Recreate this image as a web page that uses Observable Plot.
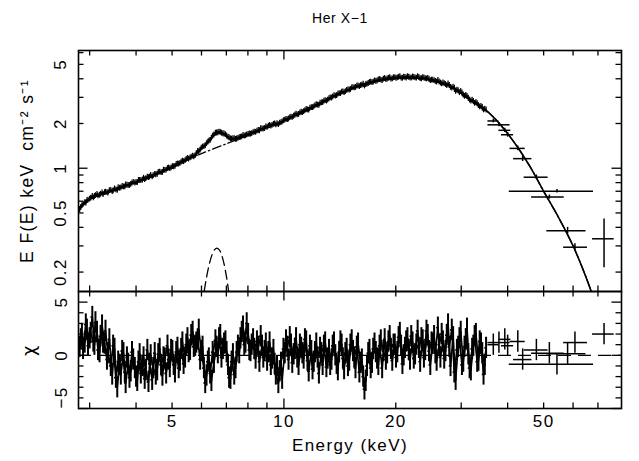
<!DOCTYPE html>
<html>
<head>
<meta charset="utf-8">
<script src="https://cdn.jsdelivr.net/npm/d3@7"></script>
<script src="https://cdn.jsdelivr.net/npm/@observablehq/plot@0.6"></script>
<style>
  html, body { margin: 0; padding: 0; background: #fff; }
  #wrap { position: relative; width: 639px; height: 461px; font-family: "Liberation Sans", Arial, Helvetica, sans-serif; }
  #title { position: absolute; left: 240px; width: 200px; top: 11px; text-align: center; font-size: 14px; line-height: 14px; letter-spacing: 0.6px; color: #000; }
  #topPanel { position: absolute; left: 0; top: 0; }
  #botPanel { position: absolute; left: 0; top: 290px; }
</style>
</head>
<body>
<div id="wrap">
  <div id="topPanel"></div>
  <div id="botPanel"></div>
  <div id="title">Her X−1</div>
</div>
<script>
// ---------- data ----------
// module A: dense spectrum channels (keV)
const energyA = [
  2.82, 2.86, 2.91, 2.95, 3.00, 3.05, 3.09, 3.14, 3.19, 3.24,
  3.29, 3.34, 3.39, 3.45, 3.50, 3.56, 3.61, 3.67, 3.73, 3.78,
  3.84, 3.90, 3.97, 4.03, 4.09, 4.16, 4.22, 4.29, 4.35, 4.42,
  4.49, 4.56, 4.63, 4.71, 4.78, 4.86, 4.93, 5.01, 5.09, 5.17,
  5.25, 5.33, 5.42, 5.50, 5.59, 5.68, 5.77, 5.86, 5.95, 6.04,
  6.14, 6.24, 6.33, 6.43, 6.54, 6.64, 6.74, 6.85, 6.96, 7.07,
  7.18, 7.29, 7.41, 7.52, 7.64, 7.76, 7.88, 8.01, 8.13, 8.26,
  8.39, 8.53, 8.66, 8.80, 8.94, 9.08, 9.22, 9.37, 9.51, 9.66,
  9.82, 9.97, 10.13, 10.29, 10.45, 10.62, 10.78, 10.95, 11.13, 11.30,
  11.48, 11.66, 11.85, 12.03, 12.22, 12.42, 12.61, 12.81, 13.01, 13.22,
  13.43, 13.64, 13.86, 14.08, 14.30, 14.52, 14.75, 14.99, 15.22, 15.46,
  15.71, 15.96, 16.21, 16.47, 16.73, 16.99, 17.26, 17.53, 17.81, 18.09,
  18.38, 18.67, 18.96, 19.26, 19.57, 19.88, 20.19, 20.51, 20.84, 21.17,
  21.50, 21.84, 22.19, 22.54, 22.90, 23.26, 23.63, 24.00, 24.38, 24.77,
  25.16, 25.56, 25.96, 26.37, 26.79, 27.21, 27.65, 28.08, 28.53, 28.98,
  29.44, 29.91, 30.38, 30.86, 31.35, 31.85, 32.35, 32.86, 33.38, 33.91,
  34.45, 35.00
];
// unfolded E F(E) (keV cm^-2 s^-1)
const fluxA = [
  0.528, 0.560, 0.586, 0.605, 0.621, 0.648, 0.646, 0.668, 0.659, 0.684,
  0.686, 0.685, 0.708, 0.697, 0.726, 0.710, 0.734, 0.754, 0.750, 0.769,
  0.766, 0.794, 0.796, 0.800, 0.829, 0.834, 0.838, 0.872, 0.874, 0.876,
  0.910, 0.912, 0.943, 0.938, 0.968, 0.996, 0.994, 1.027, 1.030, 1.069,
  1.079, 1.115, 1.125, 1.164, 1.174, 1.208, 1.216, 1.298, 1.327, 1.389,
  1.418, 1.500, 1.540, 1.645, 1.722, 1.734, 1.745, 1.708, 1.683, 1.620,
  1.580, 1.582, 1.566, 1.592, 1.619, 1.663, 1.656, 1.690, 1.697, 1.740,
  1.747, 1.796, 1.845, 1.843, 1.898, 1.921, 1.925, 1.976, 1.962, 1.970,
  2.032, 2.089, 2.136, 2.148, 2.213, 2.241, 2.317, 2.305, 2.383, 2.404,
  2.488, 2.466, 2.563, 2.588, 2.677, 2.656, 2.757, 2.832, 2.832, 2.938,
  2.972, 3.080, 3.081, 3.177, 3.252, 3.228, 3.343, 3.364, 3.479, 3.480,
  3.568, 3.543, 3.630, 3.580, 3.683, 3.778, 3.772, 3.878, 3.868, 3.957,
  3.900, 4.021, 3.990, 4.070, 4.003, 4.081, 4.064, 4.135, 4.034, 4.096,
  4.135, 4.063, 4.120, 4.066, 4.135, 4.011, 4.075, 4.019, 4.030, 3.888,
  3.922, 3.849, 3.897, 3.749, 3.750, 3.666, 3.703, 3.505, 3.518, 3.301,
  3.330, 3.297, 3.113, 3.091, 2.963, 2.836, 2.823, 2.781, 2.643, 2.613,
  2.471, 2.467
];
// residuals (chi)
const chiA = [
  0.8, 1.9, 1.2, 2.4, 1.6, 3.6, 1.0, 2.2, 0.3, 2.8,
  1.1, -0.4, 1.5, -1.8, 0.6, -3.0, -0.9, 0.4, -1.6, -0.2,
  -2.1, 0.3, -1.2, -2.4, 0.1, -1.0, -2.2, 0.5, -0.8, -2.3,
  0.2, -1.4, 0.6, -1.9, -0.3, 0.9, -1.1, 0.4, -1.6, 0.7,
  -0.5, 1.2, -0.2, 1.6, 0.5, 2.2, 0.9, 1.5, -0.4, 0.8,
  -2.6, -0.6, -1.7, 0.3, 1.4, 0.2, 1.9, 0.6, 1.3, -0.9,
  -2.2, 0.1, -1.2, 0.9, 1.6, 2.7, 1.2, 2.0, 0.4, 1.5,
  -0.3, 0.8, 1.8, -0.2, 1.1, 0.3, -0.9, 0.5, -1.8, -2.6,
  -0.7, 0.6, 1.4, -0.4, 1.0, 0.1, 1.6, -0.9, 0.7, -0.3,
  1.3, -1.5, 0.4, -0.6, 1.1, -1.7, 0.2, 0.9, -1.1, 0.5,
  -0.4, 1.2, -0.8, 0.3, 1.0, -1.3, 0.6, -0.5, 1.4, -0.2,
  0.8, -1.6, -0.4, -3.2, -1.0, 0.5, -0.7, 1.1, -0.3, 0.9,
  -1.2, 1.5, 0.2, 1.8, -0.5, 1.0, 0.3, 2.1, -0.8, 0.7,
  1.6, -0.4, 1.2, 0.1, 2.3, -0.6, 1.4, 0.5, 1.9, -0.9,
  1.1, 0.2, 2.6, -0.2, 1.3, 0.4, 2.9, -1.0, 1.7, -2.3,
  0.8, 2.2, -0.6, 1.5, 0.1, -1.4, 0.9, 2.0, -0.5, 1.1,
  -1.8, 0.7
];
// module B: interleaved channels
const energyB = [
  2.84, 2.88, 2.93, 2.97, 3.02, 3.07, 3.11, 3.16, 3.21, 3.26,
  3.31, 3.36, 3.42, 3.47, 3.53, 3.58, 3.64, 3.70, 3.75, 3.81,
  3.87, 3.93, 4.00, 4.06, 4.12, 4.19, 4.25, 4.32, 4.38, 4.45,
  4.52, 4.59, 4.67, 4.74, 4.82, 4.89, 4.97, 5.05, 5.13, 5.21,
  5.29, 5.37, 5.46, 5.54, 5.63, 5.72, 5.81, 5.90, 5.99, 6.09,
  6.19, 6.28, 6.38, 6.48, 6.59, 6.69, 6.79, 6.90, 7.01, 7.12,
  7.23, 7.35, 7.46, 7.58, 7.70, 7.82, 7.94, 8.07, 8.19, 8.32,
  8.46, 8.59, 8.73, 8.87, 9.01, 9.15, 9.29, 9.44, 9.58, 9.74,
  9.89, 10.05, 10.21, 10.37, 10.53, 10.70, 10.86, 11.04, 11.21, 11.39,
  11.57, 11.75, 11.94, 12.12, 12.32, 12.51, 12.71, 12.91, 13.11, 13.32,
  13.53, 13.75, 13.97, 14.19, 14.41, 14.63, 14.87, 15.10, 15.34, 15.58,
  15.83, 16.08, 16.34, 16.60, 16.86, 17.12, 17.39, 17.67, 17.95, 18.23,
  18.52, 18.81, 19.11, 19.41, 19.72, 20.03, 20.35, 20.67, 21.00, 21.33,
  21.67, 22.01, 22.36, 22.72, 23.08, 23.44, 23.81, 24.19, 24.57, 24.96,
  25.36, 25.76, 26.16, 26.58, 27.00, 27.43, 27.86, 28.30, 28.75, 29.21,
  29.67, 30.14, 30.62, 31.10, 31.60, 32.10, 32.60, 33.12, 33.64, 34.18,
  34.72
];
const fluxB = [
  0.546, 0.571, 0.584, 0.611, 0.629, 0.632, 0.655, 0.652, 0.669, 0.666,
  0.690, 0.681, 0.711, 0.706, 0.716, 0.741, 0.739, 0.749, 0.773, 0.768,
  0.779, 0.805, 0.801, 0.829, 0.826, 0.857, 0.851, 0.866, 0.896, 0.893,
  0.905, 0.938, 0.936, 0.971, 0.972, 1.004, 1.006, 1.024, 1.062, 1.066,
  1.101, 1.108, 1.147, 1.152, 1.189, 1.192, 1.253, 1.296, 1.366, 1.401,
  1.465, 1.522, 1.598, 1.676, 1.728, 1.750, 1.722, 1.701, 1.648, 1.605,
  1.571, 1.585, 1.574, 1.610, 1.628, 1.646, 1.680, 1.701, 1.712, 1.752,
  1.778, 1.790, 1.838, 1.852, 1.885, 1.940, 1.946, 1.990, 1.995, 2.012,
  2.051, 2.110, 2.124, 2.190, 2.201, 2.275, 2.290, 2.362, 2.371, 2.447,
  2.470, 2.540, 2.559, 2.641, 2.660, 2.745, 2.763, 2.856, 2.880, 2.975,
  3.028, 3.058, 3.161, 3.180, 3.270, 3.281, 3.374, 3.391, 3.487, 3.501,
  3.590, 3.603, 3.690, 3.662, 3.721, 3.800, 3.802, 3.846, 3.931, 3.918,
  3.981, 3.955, 4.034, 3.992, 4.065, 4.031, 4.097, 4.048, 4.110, 4.052,
  4.101, 4.050, 4.098, 4.039, 4.083, 4.005, 4.052, 3.992, 3.975, 3.921,
  3.893, 3.802, 3.812, 3.701, 3.712, 3.598, 3.620, 3.468, 3.462, 3.362,
  3.227, 3.215, 3.051, 3.043, 2.880, 2.870, 2.731, 2.722, 2.587, 2.571,
  2.505
];
const chiB = [
  1.5, 0.6, 2.9, 0.9, 2.1, 1.3, 3.1, 0.5, 1.8, 1.2,
  2.3, 0.2, -1.0, 0.9, -2.1, -0.6, -1.8, 0.2, -2.6, -0.8,
  -1.5, -0.4, -2.0, -0.6, -1.7, -0.2, -1.4, -2.5, 0.0, -1.2,
  -1.8, 0.1, -0.9, -0.2, -1.7, -0.4, 0.5, -0.9, 0.3, -1.2,
  0.6, -0.8, 1.0, 0.3, 1.9, 0.8, 1.2, 2.4, 0.4, -1.2,
  -1.9, -0.3, -2.4, -0.7, 0.8, 1.6, -0.2, 1.1, 0.3, -2.1,
  -0.6, -1.8, 0.3, 0.2, 2.2, 1.0, 3.0, 0.5, 1.0, 0.6,
  1.3, -0.6, 0.9, 0.4, -0.5, 1.2, -0.3, -0.8, -1.0, -1.5,
  -2.2, 0.2, 0.8, 1.7, -0.7, 0.6, -0.2, 1.0, 0.2, 1.5,
  -0.5, 0.9, -1.3, 0.3, -0.2, 0.7, -0.9, 1.2, -0.3, -0.9,
  0.9, 0.0, -1.4, 1.3, -0.3, 0.2, -1.0, 1.0, 0.4, -1.2,
  1.1, -0.7, -2.0, -2.4, 0.2, -1.2, 0.6, 0.3, -0.9, 1.4,
  0.4, -0.4, 1.3, 0.6, 1.0, -0.2, 1.7, 0.9, 0.0, 1.3,
  0.5, 1.8, -0.3, 1.0, 0.7, 1.6, -0.2, 2.3, 0.4, 1.2,
  1.8, -0.5, 1.0, 2.0, -0.3, 1.9, 0.8, 2.4, -1.6, 0.5,
  1.6, -0.9, 0.8, 2.5, -1.2, 0.6, 1.8, -0.6, 1.3, 0.2,
  -0.9
];
const fluxRelErr = 0.045;
// wide high-energy bins
const binE   = [36.6, 37.9, 39.3, 40.0, 42.6, 43.9, 47.8, 54.3, 51.8, 58.0, 60.7, 72.7];
const binLo  = [35.4, 35.4, 37.9, 38.5, 40.6, 41.5, 44.3, 40.4, 46.4, 51.0, 56.6, 67.7];
const binHi  = [37.9, 40.6, 40.8, 41.5, 44.6, 46.5, 51.4, 68.1, 56.8, 65.0, 65.6, 77.4];
const binF   = [2.08, 1.96, 1.80, 1.68, 1.36, 1.16, 0.87, 0.70, 0.64, 0.38, 0.294, 0.335];
const binFlo = [2.02, 1.90, 1.74, 1.62, 1.31, 1.11, 0.84, 0.68, 0.62, 0.36, 0.28, 0.214];
const binFhi = [2.14, 2.02, 1.86, 1.74, 1.41, 1.21, 0.90, 0.72, 0.66, 0.40, 0.31, 0.456];
const binChi = [1.0, 1.2, 1.5, 0.9, 1.3, -0.4, 0.5, -0.85, 0.2, 0.15, 1.2, 2.0];
// model: continuum and iron-line gaussian
const contE = [2.8, 2.9, 3.0, 3.2, 3.5, 4.0, 4.5, 5.0, 5.5, 6.0, 6.5, 7.0, 7.5, 8.0, 9.0, 10, 11, 12.5, 14, 16, 18, 20, 22, 24, 26, 28, 30, 32, 35, 38, 42, 46, 50, 55, 60, 65, 70];
const contF = [0.52, 0.575, 0.615, 0.66, 0.72, 0.81, 0.91, 1.02, 1.15, 1.255, 1.36, 1.46, 1.56, 1.66, 1.90, 2.08, 2.33, 2.72, 3.15, 3.62, 3.92, 4.05, 4.08, 4.0, 3.8, 3.55, 3.2, 2.85, 2.45, 2.0, 1.45, 1.02, 0.70, 0.46, 0.30, 0.185, 0.11];
const gaussE = [5.8, 5.9, 6.0, 6.1, 6.2, 6.3, 6.4, 6.5, 6.6, 6.7, 6.8, 6.9, 7.0, 7.1, 7.2, 7.3, 7.4];
const gaussF = [0.051, 0.077, 0.110, 0.148, 0.188, 0.227, 0.260, 0.282, 0.290, 0.282, 0.260, 0.227, 0.188, 0.148, 0.110, 0.077, 0.051];
// axes
const xDomain = [2.8, 81];
const fluxDomain = [0.148, 6.2];
const chiDomain = [-5, 6];
const xMinorTicks = [3, 4, 5, 6, 7, 8, 9, 20, 30, 40, 50, 60, 70];
const xMajorTicks = [10];
const xTickLabels = [5, 10, 20, 50];
const yMinorTicks = [0.2, 0.3, 0.4, 0.5, 0.6, 0.7, 0.8, 0.9, 2, 3, 4, 5, 6];
const yMajorTicks = [1];
const yTickLabels = [0.2, 0.5, 1, 2, 5];
const rMinorTicks = [-4, -3, -2, -1, 1, 2, 3, 4];
const rMajorTicks = [-5, 0, 5];
const rTickLabels = [5, 0];
const rTickLabelsLow = [-5];
const titleText = "Her X−1";
const yLabel = "E F(E) keV\u00a0\u00a0cm⁻² s⁻¹";
const rLabel = "χ";
const xLabel = "Energy (keV)";

// ---------- tables ----------
function channels(set, energy, flux, chi) {
  return energy.map((e, i) => {
    const prev = i > 0 ? energy[i - 1] : e * e / energy[i + 1];
    const next = i < energy.length - 1 ? energy[i + 1] : e * e / energy[i - 1];
    return {set, e, f: flux[i], r: chi[i], lo: Math.sqrt(prev * e), hi: Math.sqrt(e * next)};
  });
}
const dense = [...channels("A", energyA, fluxA, chiA), ...channels("B", energyB, fluxB, chiB)];
const bins = binE.map((e, i) => ({e, lo: binLo[i], hi: binHi[i], f: binF[i], flo: binFlo[i], fhi: binFhi[i], r: binChi[i]}));
const cont = contE.map((e, i) => ({e, f: contF[i]}));
const gauss = gaussE.map((e, i) => ({e, f: gaussF[i]}));

// ---------- layout ----------
const W = 639, ML = 78, MR = 18;
const FW = W - ML - MR;
const TOP_H = 292, TOP_MT = 50, TOP_MB = 1;
const TOP_FH = TOP_H - TOP_MT - TOP_MB;
const BOT_H = 171, BOT_MT = 1, BOT_MB = 53;
const BOT_FH = BOT_H - BOT_MT - BOT_MB;
const MINOR = 5.5, MAJOR = 9.5, TICKW = 1.3;
const FONT = '"Liberation Sans", Arial, Helvetica, sans-serif';

function xTicks(vals, len, fh) {
  return [
    Plot.ruleX(vals, {x: d => d, insetBottom: fh - len, strokeWidth: TICKW}),
    Plot.ruleX(vals, {x: d => d, insetTop: fh - len, strokeWidth: TICKW})
  ];
}
function yTicks(vals, len) {
  return [
    Plot.ruleY(vals, {y: d => d, insetRight: FW - len, strokeWidth: TICKW}),
    Plot.ruleY(vals, {y: d => d, insetLeft: FW - len, strokeWidth: TICKW})
  ];
}

const topPlot = Plot.plot({
  width: W, height: TOP_H,
  marginTop: TOP_MT, marginBottom: TOP_MB, marginLeft: ML, marginRight: MR,
  x: {type: "log", domain: xDomain, axis: null},
  y: {type: "log", domain: fluxDomain, axis: null},
  marks: [
    Plot.line(cont, {x: "e", y: "f", stroke: "black", strokeWidth: 1.3, strokeDasharray: "9,3,1.5,3", curve: "catmull-rom", clip: true}),
    Plot.line(cont.filter(d => d.e >= 30), {x: "e", y: "f", stroke: "black", strokeWidth: 1.6, curve: "catmull-rom", clip: true}),
    Plot.line(gauss, {x: "e", y: "f", stroke: "black", strokeWidth: 1.3, strokeDasharray: "9,5", curve: "catmull-rom", clip: true}),
    Plot.line(dense, {x: "e", y: "f", z: "set", stroke: "black", strokeWidth: 1.8}),
    Plot.ruleX(dense, {x: "e", y1: d => d.f * (1 - fluxRelErr), y2: d => d.f * (1 + fluxRelErr), strokeWidth: 1.2}),
    Plot.ruleY(dense, {y: "f", x1: "lo", x2: "hi", strokeWidth: 1.6}),
    Plot.ruleX(bins, {x: "e", y1: "flo", y2: "fhi", strokeWidth: 1.5, clip: true}),
    Plot.ruleY(bins, {y: "f", x1: "lo", x2: "hi", strokeWidth: 1.5, clip: true}),
    ...xTicks(xMinorTicks, MINOR, TOP_FH),
    ...xTicks(xMajorTicks, MAJOR, TOP_FH),
    ...yTicks(yMinorTicks, MINOR),
    ...yTicks(yMajorTicks, MAJOR),
    Plot.frame({strokeWidth: 1.6}),
    Plot.text(yTickLabels, {y: d => d, text: d => String(d), frameAnchor: "left", dx: -18, rotate: -90, textAnchor: "middle", lineAnchor: "middle", fontSize: 17}),
    Plot.text([yLabel], {text: d => d, frameAnchor: "left", dx: -51, rotate: -90, textAnchor: "middle", lineAnchor: "middle", fontSize: 17.5})
  ]
});

const botPlot = Plot.plot({
  width: W, height: BOT_H,
  marginTop: BOT_MT, marginBottom: BOT_MB, marginLeft: ML, marginRight: MR,
  x: {type: "log", domain: xDomain, axis: null},
  y: {type: "linear", domain: chiDomain, axis: null},
  marks: [
    Plot.ruleY([0], {strokeWidth: 1.3, strokeDasharray: "13,7"}),
    Plot.line(dense, {x: "e", y: "r", z: "set", stroke: "black", strokeWidth: 1.7}),
    Plot.ruleX(dense, {x: "e", y1: d => d.r - 1, y2: d => d.r + 1, strokeWidth: 2}),
    Plot.ruleY(dense, {y: "r", x1: "lo", x2: "hi", strokeWidth: 1.6}),
    Plot.ruleX(bins, {x: "e", y1: d => d.r - 1, y2: d => d.r + 1, strokeWidth: 1.5}),
    Plot.ruleY(bins, {y: "r", x1: "lo", x2: "hi", strokeWidth: 1.5}),
    ...xTicks(xMinorTicks, MINOR, BOT_FH),
    ...xTicks(xMajorTicks, MAJOR, BOT_FH),
    ...yTicks(rMinorTicks, MINOR),
    ...yTicks(rMajorTicks, MAJOR),
    Plot.frame({strokeWidth: 1.6}),
    Plot.text(rTickLabels, {y: d => d, text: d => String(d), frameAnchor: "left", dx: -17, rotate: -90, textAnchor: "middle", lineAnchor: "middle", fontSize: 17}),
    Plot.text(rTickLabelsLow, {y: d => d, text: d => "−" + String(Math.abs(d)), frameAnchor: "left", dx: -17, rotate: -90, textAnchor: "start", lineAnchor: "middle", fontSize: 17}),
    Plot.text([rLabel], {text: d => d, frameAnchor: "left", dx: -49, rotate: -90, textAnchor: "middle", lineAnchor: "middle", fontSize: 18, fontFamily: "DejaVu Sans"}),
    Plot.text(xTickLabels, {x: d => d, text: d => String(d), frameAnchor: "bottom", dy: 13, lineAnchor: "middle", fontSize: 17}),
    Plot.text([xLabel], {text: d => d, frameAnchor: "bottom", dy: 37, lineAnchor: "middle", fontSize: 17})
  ]
});

for (const svg of [topPlot, botPlot]) {
  svg.style.fontFamily = FONT;
  svg.style.overflow = "visible";
  svg.style.background = "none";
  svg.style.maxWidth = "none";
  svg.querySelectorAll("text").forEach(t => t.setAttribute("letter-spacing", "1.4px"));
}
document.getElementById("topPanel").appendChild(topPlot);
document.getElementById("botPanel").appendChild(botPlot);
document.getElementById("title").textContent = titleText;
</script>
</body>
</html>
